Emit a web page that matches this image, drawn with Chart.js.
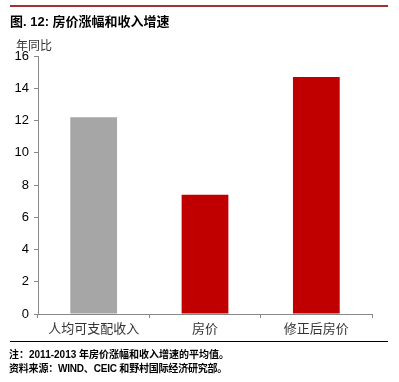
<!DOCTYPE html>
<html><head><meta charset="utf-8">
<script src="https://cdn.jsdelivr.net/npm/chart.js@4/dist/chart.umd.min.js"></script>
<style>
html,body{margin:0;padding:0;background:#fff;width:399px;height:382px;overflow:hidden;}
body{position:relative;font-family:"Liberation Sans","Noto Sans CJK SC",sans-serif;}
#wrap{position:absolute;left:0;top:0;width:399px;height:382px;}
.t{position:absolute;white-space:nowrap;}
#topline{position:absolute;left:10px;top:5px;width:378px;height:2px;background:#9e3236;}
#botline{position:absolute;left:10px;top:341px;width:378px;height:1px;background:#000;}
#title{left:10px;top:11px;font-size:13px;font-weight:bold;color:#000;}
#unit{left:16px;top:36px;font-size:12px;color:#333;}
.fn{left:9px;font-size:10px;font-weight:bold;color:#000;}
</style></head>
<body>
<div id="wrap"><canvas id="c" width="399" height="382"></canvas></div>
<div id="topline"></div>
<div class="t" id="title">图. 12: 房价涨幅和收入增速</div>
<div class="t" id="unit">年同比</div>
<div id="botline"></div>
<div class="t fn" style="top:346px">注：2011-2013 年房价涨幅和收入增速的平均值。</div>
<div class="t fn" style="top:360px;letter-spacing:-0.2px">资料来源：WIND、CEIC 和野村国际经济研究部。</div>
<script>
const categories = ["人均可支配收入", "房价", "修正后房价"];
const values = [12.2, 7.4, 14.7];
const barColors = ["#a6a6a6", "#c00000", "#c00000"];
const yTicks = [0, 2, 4, 6, 8, 10, 12, 14, 16];

new Chart(document.getElementById('c'), {
  type: 'bar',
  data: {
    labels: categories,
    datasets: [{ data: values, backgroundColor: barColors, barPercentage: 0.42, categoryPercentage: 1.0 }]
  },
  options: {
    responsive: false,
    animation: false,
    devicePixelRatio: 1,
    layout: { padding: { left: 0, right: 27, top: 56, bottom: 40 } },
    plugins: { legend: { display: false }, tooltip: { enabled: false } },
    scales: {
      x: {
        grid: { display: true, drawOnChartArea: false, drawTicks: true, tickLength: 4, color: '#888', offset: true },
        border: { display: true, color: '#888', width: 1 },
        ticks: { color: '#333', font: { size: 13, family: '"Liberation Sans","Noto Sans CJK SC"' }, padding: 4 },
        afterFit: s => { s.height = 28; }
      },
      y: {
        min: 0, max: 16,
        afterBuildTicks: s => { s.ticks = yTicks.map(v => ({ value: v })); },
        grid: { display: true, drawOnChartArea: false, drawTicks: true, tickLength: 4, color: '#888' },
        border: { display: true, color: '#888', width: 1 },
        ticks: { color: '#000', font: { size: 13, family: '"Liberation Sans","Noto Sans CJK SC"' }, padding: 5 },
        afterFit: s => { s.width = 38; }
      }
    }
  }
});
</script>
</body></html>
